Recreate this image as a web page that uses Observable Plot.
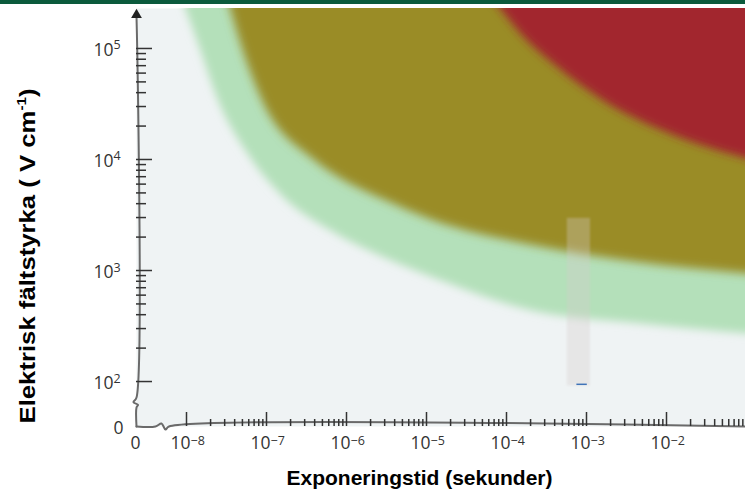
<!DOCTYPE html>
<html><head><meta charset="utf-8">
<script src="https://cdn.jsdelivr.net/npm/d3@7"></script>
<script src="https://cdn.jsdelivr.net/npm/@observablehq/plot@0.6"></script>
<style>
body{margin:0;background:#fff;}
#bar{height:4px;background:#0b5a3c;}
#chart svg{display:block;}
</style></head><body>
<div id="bar"></div>
<div id="chart"></div>
<script>
// ---------------- data ----------------
// tick labels (base 10, superscript exponent)
const xTickExps = [-8, -7, -6, -5, -4, -3, -2];
const xTickSup  = ["\u22128", "\u22127", "\u22126", "\u22125", "\u22124", "\u22123", "\u22122"];
const yTickExps = [2, 3, 4, 5];
const yTickSup  = ["2", "3", "4", "5"];

// region boundaries: log10(time, s) / log10(field, V/cm)
const greenLogT = [-8.2, -8.01, -7.83, -7.6, -7.26, -6.8, -6.2, -5.51, -4.825, -3.7, -2.33, -1.01, -0.5];
const greenLogE = [5.72, 5.36, 5.0, 4.53, 4.08, 3.67, 3.36, 3.11, 2.91, 2.64, 2.52, 2.43, 2.40];
const oliveLogT = [-7.6, -7.45, -7.3, -7.05, -6.41, -6.075, -5.51, -4.95, -3.7, -2.325, -1.01, -0.5];
const oliveLogE = [5.72, 5.36, 5.0, 4.53, 4.0, 3.83, 3.63, 3.46, 3.23, 3.07, 2.97, 2.93];
const redLogT   = [-4.5, -4.075, -3.825, -3.36, -2.79, -1.95, -1.01, -0.5];
const redLogE   = [5.75, 5.36, 5.135, 4.83, 4.53, 4.23, 4.01, 3.92];
// faint vertical strip near 1 ms
const ghostLogT = [-3.24, -2.95];
const ghostLogE = [1.96, 3.47];

// axis extents (log10)
const xDomLog = [-8.625, -1.0125];
const yDomLog = [1.595, 5.36];
const xTitle = "Exponeringstid (sekunder)";
const yTitle = "Elektrisk fältstyrka ( V cm";

// ---------------- build ----------------
const pow = d => Math.pow(10, d);
const rows = (T, E) => T.map((t, i) => ({t: pow(t), e: pow(E[i])}));
const yCeil = pow(5.9);
const W = 745, H = 489, mL = 136, mR = 0, mT = 4, mB = 67;
const pxX = (W - mL - mR) / (xDomLog[1] - xDomLog[0]);
const pxY = (H - mT - mB) / (yDomLog[1] - yDomLog[0]);
const at = (dxPx, dyPx) => ({t: pow(xDomLog[0] + dxPx / pxX), e: pow(yDomLog[0] + dyPx / pxY)});

const minors = (lo, hi) => { const a = []; for (let d = lo; d < hi; d++) for (let m = 2; m <= 9; m++) a.push(m * pow(d)); return a; };
const xMajor = xTickExps.map(pow), yMajor = yTickExps.map(pow);
const xMinor = minors(-8, -1), yMinor = minors(2, 5);

const yAxisPts = [at(0,0), at(0,19), at(1.5,21.7), at(-3,24.3), at(0,29), {t: pow(xDomLog[0]), e: pow(yDomLog[1] - 8/pxY)}];
const xAxisPts = [at(0,0), at(19,0), at(25,3), at(29,-3), at(32.5,0), {t: pow(xDomLog[1]), e: pow(yDomLog[0])}];

const ink = "#333";
const axisCol = "#6a6a6a";
const plot = Plot.plot({
  width: W, height: H, marginLeft: mL, marginRight: mR, marginTop: mT, marginBottom: mB,
  x: {type: "log", domain: xDomLog.map(pow)},
  y: {type: "log", domain: yDomLog.map(pow)},
  style: {fontFamily: "Open Sans", background: "transparent", overflow: "visible"},
  marks: [
    Plot.frame({fill: "#eff3f4", stroke: "none"}),
    Plot.areaY(rows(greenLogT, greenLogE), {x: "t", y1: "e", y2: yCeil, fill: "#b4e0ba", curve: "monotone-x", clip: true}),
    Plot.areaY(rows(oliveLogT, oliveLogE), {x: "t", y1: "e", y2: yCeil, fill: "#9a8c28", curve: "monotone-x", clip: true}),
    Plot.areaY(rows(redLogT, redLogE), {x: "t", y1: "e", y2: yCeil, fill: "#a2262e", curve: "monotone-x", clip: true}),
    Plot.rect([0], {x1: pow(ghostLogT[0]), x2: pow(ghostLogT[1]), y1: pow(ghostLogE[0]), y2: pow(ghostLogE[1]), fill: "#d4cccc", fillOpacity: 0.33}),
    Plot.ruleY([pow(1.975)], {x1: pow(-3.12), x2: pow(-2.99), stroke: "#3f73b8", strokeWidth: 1.5}),
    // axes lines
    Plot.line(yAxisPts, {x: "t", y: "e", stroke: axisCol, strokeWidth: 2, curve: "catmull-rom"}),
    Plot.line(xAxisPts, {x: "t", y: "e", stroke: axisCol, strokeWidth: 2, curve: "catmull-rom"}),
    Plot.dot([0], {x: pow(xDomLog[0]), y: pow(yDomLog[1] - 6.5/pxY), symbol: "triangle", r: 4, fill: "#222", stroke: "none"}),
    // ticks
    Plot.axisX({ticks: xMajor, tickSize: -14, tickFormat: () => "", label: null, stroke: ink, strokeWidth: 1.5}),
    Plot.axisX({ticks: xMinor, tickSize: -7, tickFormat: () => "", label: null, stroke: ink, strokeWidth: 1.5}),
    Plot.axisY({ticks: yMajor, tickSize: -16, tickFormat: () => "", label: null, stroke: ink, strokeWidth: 1.5}),
    Plot.axisY({ticks: yMinor, tickSize: -10, tickFormat: () => "", label: null, stroke: ink, strokeWidth: 1.5}),
    // tick labels
    Plot.text(xMajor, {x: d => d, frameAnchor: "bottom", text: () => "10", textAnchor: "end", lineAnchor: "middle", dx: 4, dy: 17, fontSize: 17.5, fill: ink}),
    Plot.text(xMajor, {x: d => d, frameAnchor: "bottom", text: (d, i) => xTickSup[i], textAnchor: "start", lineAnchor: "middle", dx: 4, dy: 14.5, fontSize: 12.5, fill: ink}),
    Plot.text(yMajor, {y: d => d, frameAnchor: "left", text: () => "10", textAnchor: "end", lineAnchor: "middle", dx: -23, dy: 1.5, fontSize: 17.5, fill: ink}),
    Plot.text(yMajor, {y: d => d, frameAnchor: "left", text: (d, i) => yTickSup[i], textAnchor: "start", lineAnchor: "middle", dx: -23, dy: -3, fontSize: 12.5, fill: ink}),
    Plot.text(["0"], {frameAnchor: "bottom-left", text: d => d, textAnchor: "middle", lineAnchor: "middle", dx: -1, dy: 17, fontSize: 17.5, fill: ink}),
    Plot.text(["0"], {frameAnchor: "bottom-left", text: d => d, textAnchor: "middle", lineAnchor: "middle", dx: -18, dy: 1.5, fontSize: 17.5, fill: ink}),
    // titles
    Plot.text([xTitle], {frameAnchor: "bottom", text: d => d, textAnchor: "middle", dx: -21.5, dy: 58, lineAnchor: "bottom", fontSize: 21, fontWeight: "bold", fontFamily: "Liberation Sans", fill: "#000"}),
    Plot.text([yTitle], {frameAnchor: "left", text: d => d, textAnchor: "middle", dx: -102, dy: 38.5, rotate: -90, lineAnchor: "bottom", fontSize: 22, fontWeight: "bold", fontFamily: "Liberation Sans", fill: "#000"})
  ]
});

// soft edges: gaussian blur filters on the region areas
const svg = d3.select(plot);
const defs = svg.insert("defs", ":first-child");
[["blurG", 4], ["blurO", 5], ["blurR", 4], ["blurS", 1.2]].forEach(([id, s]) => {
  defs.append("filter").attr("id", id).attr("x", "-20%").attr("y", "-20%").attr("width", "140%").attr("height", "140%")
    .append("feGaussianBlur").attr("stdDeviation", s);
});
const areas = svg.selectAll('g[aria-label="area"]').nodes();
["blurG", "blurO", "blurR"].forEach((id, i) => areas[i] && areas[i].setAttribute("filter", `url(#${id})`));
svg.selectAll('g[aria-label="rect"]').attr("filter", "url(#blurS)");

// superscript in y title, stretched to the reference length
svg.selectAll("text").filter(function() { return this.textContent === yTitle; }).each(function() {
  const t = d3.select(this);
  t.text(null);
  t.attr("textLength", 335).attr("lengthAdjust", "spacingAndGlyphs");
  t.append("tspan").text(yTitle);
  t.append("tspan").attr("font-size", 13).attr("dy", -9).text("-1");
  t.append("tspan").attr("dy", 9).text(")");
});

document.getElementById("chart").appendChild(plot);
</script>
</body></html>
